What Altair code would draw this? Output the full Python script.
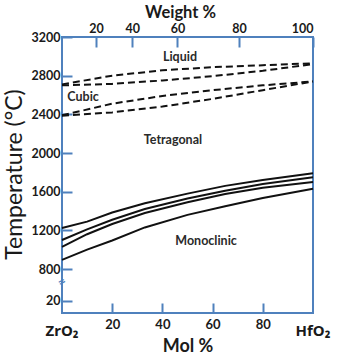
import altair as alt
import pandas as pd

# ---- data ----
solid_x = [0, 10, 20, 33, 50, 65, 80, 100]
s1 = [1225, 1290, 1385, 1480, 1580, 1660, 1720, 1790]
s2 = [1100, 1210, 1310, 1420, 1530, 1610, 1680, 1750]
s3 = [1030, 1160, 1265, 1380, 1490, 1575, 1640, 1700]
s4 = [895, 1000, 1095, 1230, 1360, 1450, 1535, 1630]

dash_x = [0, 20, 40, 60, 80, 100]
d1 = [2710, 2800, 2855, 2888, 2908, 2928]
d2 = [2700, 2715, 2750, 2795, 2850, 2920]
d3 = [2390, 2510, 2590, 2650, 2700, 2740]
d4 = [2385, 2420, 2480, 2560, 2650, 2740]

phase_names = ["Liquid", "Cubic", "Tetragonal", "Monoclinic"]
phase_x = [47, 8.4, 44.2, 57.4]
phase_t = [2993, 2580, 2135, 1091]

mol_ticks = [20, 40, 60, 80]
wt_labels = ["20", "40", "60", "80", "100"]
wt_pos_mol = [13.5, 28, 46, 70.5, 100]
temp_ticks = [470, 800, 1200, 1600, 2000, 2400, 2800, 3200]
temp_break_label = "20"
end_names = ["ZrO\u2082", "HfO\u2082"]
end_x = [0, 100]

# ---- tables ----
rows = []
for name, ys in [("s1", s1), ("s2", s2), ("s3", s3), ("s4", s4)]:
    for x, y in zip(solid_x, ys):
        rows.append({"series": name, "style": "solid", "mol": x, "T": y})
for name, ys in [("d1", d1), ("d2", d2), ("d3", d3), ("d4", d4)]:
    for x, y in zip(dash_x, ys):
        rows.append({"series": name, "style": "dashed", "mol": x, "T": y})
lines_df = pd.DataFrame(rows)
phase_df = pd.DataFrame({"name": phase_names, "mol": phase_x, "T": phase_t})
end_df = pd.DataFrame({"name": end_names, "mol": end_x})
break_df = pd.DataFrame({"mol": [0], "T": [665], "s": ["="]})

BLUE = "#4F81BD"
FONT = "Lato"
TXT = "#1a1a1a"

xscale = alt.Scale(domain=[0, 100], nice=False, zero=False)
yscale = alt.Scale(domain=[345, 3200], nice=False, zero=False)

wt_expr = ""
for p, l in zip(wt_pos_mol[:-1], wt_labels[:-1]):
    wt_expr += f"datum.value < {p + 1} ? '{l}' : "
wt_expr += f"'{wt_labels[-1]}'"

# layer 1: solid lines with label axes
solid = alt.Chart(lines_df).transform_filter(alt.datum.style == "solid").mark_line(
    color="#111", strokeWidth=2
).encode(
    x=alt.X("mol:Q", scale=xscale, axis=alt.Axis(
        orient="bottom", values=mol_ticks, ticks=False, tickSize=0, domain=False, grid=False,
        labelFont=FONT, labelFontSize=13, labelFontWeight="bold", labelColor=TXT,
        labelPadding=5, title="Mol %", titleFont=FONT, titleFontSize=18,
        titleFontWeight="bold", titleColor=TXT, titleY=33, titleBaseline="middle")),
    y=alt.Y("T:Q", scale=yscale, axis=alt.Axis(
        orient="left", values=temp_ticks, ticks=False, tickSize=0, domain=False, grid=False,
        labelExpr=f"datum.value < 500 ? '{temp_break_label}' : format(datum.value, 'd')",
        labelFont=FONT, labelFontSize=12.5, labelFontWeight="bold", labelColor=TXT,
        labelPadding=2, title="Temperature (\u00b0C)", titleFont=FONT, titleFontSize=23,
        titleFontWeight="normal", titleColor=TXT, titleX=-48, titleY=137,
        titleAngle=270, titleAlign="center", titleBaseline="middle")),
    detail="series:N",
)

# layer 2: dashed lines with inward tick axes
dashed = alt.Chart(lines_df).transform_filter(alt.datum.style == "dashed").mark_line(
    color="#111", strokeWidth=2, strokeDash=[7, 4]
).encode(
    x=alt.X("mol:Q", scale=xscale, axis=alt.Axis(
        orient="bottom", values=mol_ticks, offset=-10, tickSize=10, tickWidth=2,
        tickColor=BLUE, labels=False, domain=False, grid=False, title=None)),
    y=alt.Y("T:Q", scale=yscale, axis=alt.Axis(
        orient="left", values=temp_ticks, offset=-10, tickSize=10, tickWidth=2,
        tickColor=BLUE, labels=False, domain=False, grid=False, title=None)),
    detail="series:N",
)

# layer 3: phase labels + top (weight %) label axis
phases = alt.Chart(phase_df).mark_text(
    font=FONT, fontSize=12.5, fontWeight="bold", color="#2a2a2a"
).encode(
    x=alt.X("mol:Q", scale=xscale, axis=alt.Axis(
        orient="top", values=wt_pos_mol, labelExpr=wt_expr, ticks=False, tickSize=0,
        domain=False, grid=False, labelFont=FONT, labelFontSize=12.5,
        labelFontWeight="bold", labelColor=TXT, labelPadding=2,
        title="Weight %", titleFont=FONT, titleFontSize=16.5, titleFontWeight="bold",
        titleColor=TXT, titleX=118, titleY=-25, titleBaseline="middle")),
    y=alt.Y("T:Q", scale=yscale, axis=None),
    text="name:N",
)

# layer 4: axis break mark + top inward ticks
brk = alt.Chart(break_df).mark_text(
    font=FONT, fontSize=13, color=BLUE, angle=330, fontWeight="bold"
).encode(
    x=alt.X("mol:Q", scale=xscale, axis=alt.Axis(
        orient="top", values=wt_pos_mol, offset=-10, tickSize=10, tickWidth=2,
        tickColor=BLUE, labels=False, domain=False, grid=False, title=None)),
    y=alt.Y("T:Q", scale=yscale, axis=None),
    text="s:N",
)

# layer 5: end-member names under the axis
ends = alt.Chart(end_df).mark_text(
    font="Noto Sans", fontSize=15, fontWeight="bold", color=TXT, baseline="middle"
).encode(
    x=alt.X("mol:Q", scale=xscale, axis=None),
    y=alt.value(294),
    text="name:N",
)

chart = alt.layer(solid, dashed, phases, brk, ends).resolve_axis(
    x="independent", y="independent"
).properties(
    width=251, height=276,
    autosize=alt.AutoSizeParams(type="none"),
    padding={"left": 62, "top": 37, "right": 24, "bottom": 45},
).configure_view(stroke=BLUE, strokeWidth=2)

chart.save("out.html", embed_options={"renderer": "svg", "actions": False})
